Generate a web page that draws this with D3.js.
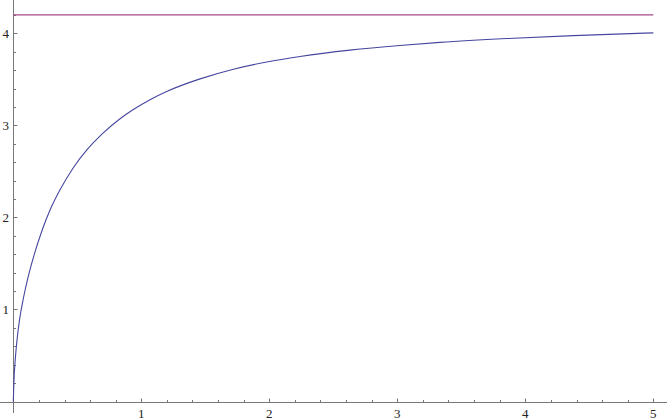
<!DOCTYPE html>
<html>
<head>
<meta charset="utf-8">
<script src="https://cdn.jsdelivr.net/npm/d3@7"></script>
<style>
  html, body { margin: 0; padding: 0; background: #fff; }
  svg { display: block; }
  .tick-label { font-family: "Liberation Serif", "DejaVu Serif", serif; font-size: 13px; fill: #222; }
</style>
</head>
<body>
<svg id="chart" width="668" height="420"></svg>
<script>
// Curve
const curveX = [0, 0.005, 0.015, 0.03, 0.05, 0.08, 0.117, 0.16, 0.23, 0.287, 0.365, 0.469, 0.573, 0.703, 0.834, 0.9375, 1.068, 1.198, 1.459, 1.72, 1.98, 2.24, 2.63, 3.02, 3.333, 3.855, 4.375, 5];
const curveY = [0, 0.22, 0.45, 0.68, 0.90, 1.13, 1.36, 1.58, 1.88, 2.08, 2.30, 2.54, 2.73, 2.918, 3.072, 3.172, 3.279, 3.368, 3.505, 3.61, 3.688, 3.748, 3.817, 3.868, 3.901, 3.943, 3.975, 4.005];
// Horizontal reference line
const limitX = [0, 5];
const limitValue = 4.2;
// Tick labels
const xTickValues = [1, 2, 3, 4, 5];
const yTickValues = [1, 2, 3, 4];
const minorStep = 0.2;

const svg = d3.select("#chart");
const x = d3.scaleLinear().domain([0, 5]).range([13.3, 653.3]);
const y = d3.scaleLinear().domain([0, 4]).range([401.5, 33.3]);

const axisColor = "#777";
const xAxisY = Math.round(y(0)) + 0.5;
const yAxisX = Math.round(x(0)) + 0.5;

// Axes lines
svg.append("line").attr("x1", 0).attr("x2", 667).attr("y1", xAxisY).attr("y2", xAxisY)
  .attr("stroke", axisColor).attr("stroke-width", 1);
svg.append("line").attr("x1", yAxisX).attr("x2", yAxisX).attr("y1", 0).attr("y2", 413)
  .attr("stroke", axisColor).attr("stroke-width", 1);

// Minor and major ticks
const xMinor = d3.range(1, 26).map(i => +(i * minorStep).toFixed(2));
svg.selectAll(".xtick").data(xMinor).enter().append("line")
  .attr("x1", d => Math.round(x(d)) + 0.5).attr("x2", d => Math.round(x(d)) + 0.5)
  .attr("y1", xAxisY).attr("y2", d => xAxisY - (Number.isInteger(d) ? 4 : 2.5))
  .attr("stroke", axisColor).attr("stroke-width", 1);
const yMinor = d3.range(1, 22).map(i => +(i * minorStep).toFixed(2));
svg.selectAll(".ytick").data(yMinor).enter().append("line")
  .attr("y1", d => Math.round(y(d)) + 0.5).attr("y2", d => Math.round(y(d)) + 0.5)
  .attr("x1", yAxisX).attr("x2", d => yAxisX + (Number.isInteger(d) ? 4 : 2.5))
  .attr("stroke", axisColor).attr("stroke-width", 1);

// Labels
svg.selectAll(".xl").data(xTickValues).enter().append("text")
  .attr("class", "tick-label").attr("x", d => x(d)).attr("y", 418)
  .attr("text-anchor", "middle").text(d => d);
svg.selectAll(".yl").data(yTickValues).enter().append("text")
  .attr("class", "tick-label").attr("x", 9).attr("y", d => y(d) + 4.5)
  .attr("text-anchor", "end").text(d => d);

// Horizontal line
svg.append("path")
  .attr("d", d3.line().x(d => x(d)).y(() => y(limitValue))(limitX))
  .attr("fill", "none").attr("stroke", "#a8488a").attr("stroke-width", 1.1);

// Curve
const pts = curveX.map((v, i) => [v, curveY[i]]);
svg.append("path")
  .attr("d", d3.line().x(d => x(d[0])).y(d => y(d[1])).curve(d3.curveMonotoneX)(pts))
  .attr("fill", "none").attr("stroke", "#4646a0").attr("stroke-width", 1.1);
</script>
</body>
</html>
